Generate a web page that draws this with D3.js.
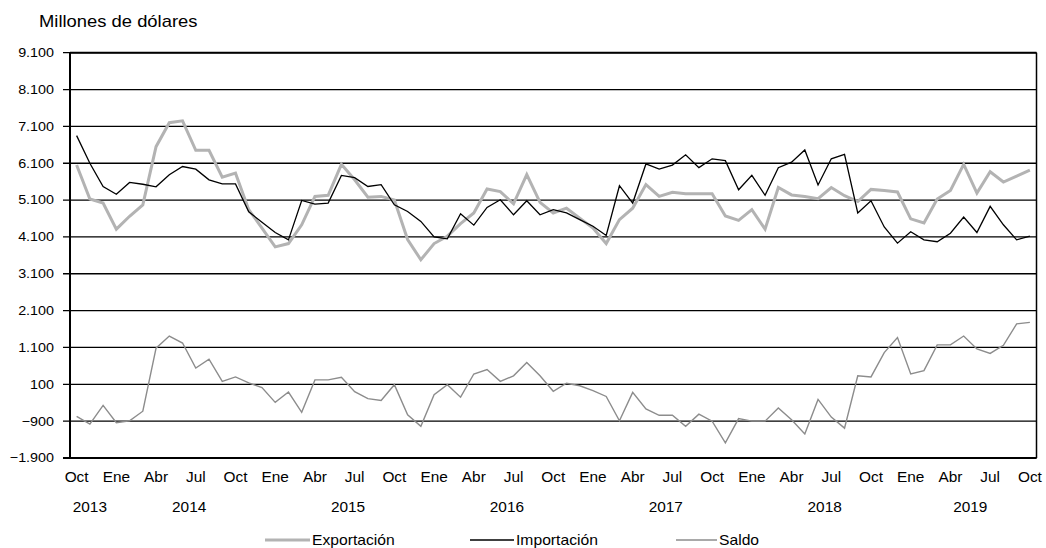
<!DOCTYPE html>
<html><head><meta charset="utf-8">
<script src="https://cdn.jsdelivr.net/npm/d3@7"></script>
<style>body{margin:0;background:#fff}svg{display:block;font-family:"Liberation Sans",Arial,sans-serif}</style>
</head><body><svg id="c" width="1046" height="548"></svg>
<script>
const monthNames = ["Ene","Feb","Mar","Abr","May","Jun","Jul","Ago","Sep","Oct","Nov","Dic"];
const startYear = 2013, startMonth = 9; // Oct 2013
const nMonths = 73;
const exportacion = [6050,5130,5020,4310,4660,4970,6550,7200,7250,6450,6450,5720,5830,4840,4340,3830,3920,4430,5200,5230,6070,5650,5180,5200,5100,
  4030,3480,3920,4120,4460,4750,5400,5330,5000,5790,5040,4750,4880,4610,4340,3920,4570,4880,5520,5200,5310,5270,5270,5270,
  4670,4550,4840,4310,5440,5240,5200,5140,5440,5220,5060,5390,5360,5320,4590,4480,5130,5360,6070,5290,5870,5590,5750,5910];
const importacion = [6850,6100,5470,5260,5580,5530,5460,5790,6010,5940,5650,5540,5540,4780,4500,4220,4020,5090,4990,5020,5770,5710,5470,5520,4970,
  4790,4520,4100,4050,4730,4420,4900,5110,4700,5080,4700,4840,4750,4570,4390,4140,5490,5020,6080,5940,6050,6330,5980,6220,
  6170,5380,5770,5230,5980,6130,6460,5510,6220,6340,4750,5080,4370,3930,4240,4020,3970,4200,4640,4220,4930,4430,4020,4120];
const saldo = [-770,-980,-470,-940,-890,-630,1080,1410,1220,540,780,180,300,140,10,-390,-110,-660,220,220,290,-100,-290,-340,90,
  -730,-1040,-180,90,-250,380,500,180,330,690,330,-90,130,60,-70,-230,-890,-120,-570,-740,-740,-1040,-710,-900,
  -1490,-830,-900,-900,-540,-860,-1250,-310,-790,-1090,330,300,960,1370,380,470,1170,1170,1410,1060,940,1160,1740,1780];
const yTicks = [-1900,-900,100,1100,2100,3100,4100,5100,6100,7100,8100,9100];
const seriesNames = ["Exportación","Importación","Saldo"];

const months = d3.range(nMonths).map(i => {
  const m = (startMonth + i) % 12, y = startYear + Math.floor((startMonth + i) / 12);
  return {i, m, y, label: monthNames[m]};
});

const svg = d3.select("#c");
const L = 70, R = 1036.5, T = 52.7, B = 458;
const x = d3.scaleBand().domain(d3.range(nMonths)).range([L, R]);
const xc = i => x(i) + x.bandwidth() / 2;
const y = d3.scaleLinear().domain([-1900, 9100]).range([B, T]);
const fmt = v => d3.format(",")(v).replace(/,/g, ".");

// stretched text helper
function stext(parent, tx, ty, str, size, anchor, sx) {
  const g = parent.append("g").attr("transform", `translate(${tx},${ty}) scale(${sx},1)`);
  g.append("text").attr("x", 0).attr("y", 0).attr("text-anchor", anchor)
    .attr("font-size", size).attr("fill", "#000").text(str);
  return g;
}

// gridlines
svg.append("g").selectAll("line").data(yTicks).join("line")
  .attr("x1", L - 7).attr("x2", R).attr("y1", d => y(d)).attr("y2", d => y(d))
  .attr("stroke", "#000").attr("stroke-width", 1.3);
// frame
svg.append("line").attr("x1", L).attr("x2", L).attr("y1", T).attr("y2", B).attr("stroke", "#000").attr("stroke-width", 2);
svg.append("line").attr("x1", R).attr("x2", R).attr("y1", T).attr("y2", B).attr("stroke", "#000").attr("stroke-width", 1.5);
svg.append("line").attr("x1", L).attr("x2", R).attr("y1", T).attr("y2", T).attr("stroke", "#000").attr("stroke-width", 2);
svg.append("line").attr("x1", L-7).attr("x2", R).attr("y1", B).attr("y2", B).attr("stroke", "#000").attr("stroke-width", 2);

// y labels
const yg = svg.append("g");
yTicks.forEach(d => stext(yg, 54, y(d) + 4.4, fmt(d), 12.8, "end", 1.12));

stext(svg, 39, 26.5, "Millones de dólares", 16, "start", 1.15);

// x labels
const quarter = months.filter(d => d.m % 3 === 0);
const xg = svg.append("g");
quarter.forEach(d => stext(xg, xc(d.i), 481.7, d.label, 14, "middle", 1.1));
const years = d3.groups(months, d => d.y).map(([yr, arr]) => ({yr, c: (xc(arr[0].i) + xc(arr[arr.length-1].i)) / 2}));
years.forEach(d => stext(xg, d.c, 511.7, d.yr, 14, "middle", 1.1));

// lines
const line = d3.line().x((d, i) => xc(i)).y(d => y(d));
const styles = [
  {data: exportacion, color: "#b3b3b3", w: 3},
  {data: importacion, color: "#000000", w: 1.3},
  {data: saldo, color: "#8c8c8c", w: 1.4}
];
[0, 2, 1].forEach(k => {
  const s = styles[k];
  svg.append("path").datum(s.data).attr("d", line).attr("fill", "none")
    .attr("stroke", s.color).attr("stroke-width", s.w).attr("stroke-linejoin", "miter");
});

// legend
const legX = [[265, 310], [470, 514], [676, 717]];
seriesNames.forEach((n, k) => {
  const g = svg.append("g");
  g.append("line").attr("x1", legX[k][0]).attr("x2", legX[k][1]).attr("y1", 540).attr("y2", 540)
    .attr("stroke", styles[k].color).attr("stroke-width", styles[k].w);
  stext(g, legX[k][1] + 2, 545, n, 14, "start", 1.12);
});
</script></body></html>
